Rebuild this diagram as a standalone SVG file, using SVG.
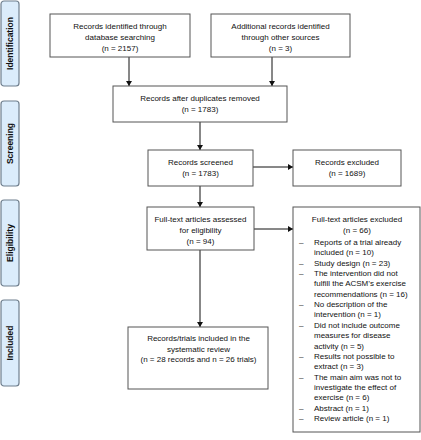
<svg xmlns="http://www.w3.org/2000/svg" width="421" height="440" viewBox="0 0 421 440">
<style>
.box{fill:#ffffff;stroke:#555555;stroke-width:1}
.side{fill:#dbecfb;stroke:#6f7f8e;stroke-width:1.2}
.t{font-family:"Liberation Sans",Arial,sans-serif;font-size:8px;fill:#111111}
.c{text-anchor:middle}
.s{font-family:"Liberation Sans",Arial,sans-serif;font-size:8.5px;font-weight:bold;fill:#111;text-anchor:middle}
.ln{stroke:#111;stroke-width:1;fill:none;marker-end:url(#ah)}
</style>
<defs>
<marker id="ah" markerUnits="userSpaceOnUse" markerWidth="6" markerHeight="6" refX="5" refY="3" orient="auto">
<path d="M0,0 L5,3 L0,6 z" fill="#111"/>
</marker>
</defs>
<rect width="421" height="440" fill="#ffffff"/>
<g id="side-identification"><rect class="side" x="1" y="1" width="18" height="85" rx="3"/><text class="s" transform="translate(13,43.5) rotate(-90)">Identification</text></g>
<g id="side-screening"><rect class="side" x="1" y="101" width="18" height="85" rx="3"/><text class="s" transform="translate(13,143.5) rotate(-90)">Screening</text></g>
<g id="side-eligibility"><rect class="side" x="1" y="200" width="18" height="86" rx="3"/><text class="s" transform="translate(13,243) rotate(-90)">Eligibility</text></g>
<g id="side-included"><rect class="side" x="1" y="300" width="18" height="86" rx="3"/><text class="s" transform="translate(13,343) rotate(-90)">Included</text></g>

<g id="connectors">
<line class="ln" x1="129" y1="57" x2="129" y2="86"/>
<line class="ln" x1="272" y1="57" x2="272" y2="86"/>
<line class="ln" x1="200" y1="122" x2="200" y2="150"/>
<line class="ln" x1="253" y1="167" x2="293" y2="167"/>
<line class="ln" x1="200" y1="186" x2="200" y2="207"/>
<line class="ln" x1="254" y1="229" x2="293" y2="229"/>
<line class="ln" x1="200" y1="250" x2="200" y2="327"/>
</g>

<g id="db-search"><rect class="box" x="50" y="14" width="140" height="43"/>
<text class="t c" x="120" y="29">Records identified through</text>
<text class="t c" x="120" y="40">database searching</text>
<text class="t c" x="120" y="51">(n = 2157)</text></g>

<g id="other-sources"><rect class="box" x="211" y="14" width="139" height="43"/>
<text class="t c" x="280.5" y="29">Additional records identified</text>
<text class="t c" x="280.5" y="40">through other sources</text>
<text class="t c" x="280.5" y="51">(n = 3)</text></g>

<g id="dup-removed"><rect class="box" x="113" y="86" width="174" height="36"/>
<text class="t c" x="200" y="101">Records after duplicates removed</text>
<text class="t c" x="200" y="111.5">(n = 1783)</text></g>

<g id="screened"><rect class="box" x="148" y="150" width="105" height="36"/>
<text class="t c" x="200.5" y="165">Records screened</text>
<text class="t c" x="200.5" y="176">(n = 1783)</text></g>

<g id="excluded"><rect class="box" x="293" y="150" width="108" height="36"/>
<text class="t c" x="347" y="165">Records excluded</text>
<text class="t c" x="347" y="176">(n = 1689)</text></g>

<g id="fulltext"><rect class="box" x="147" y="207" width="107" height="43"/>
<text class="t c" x="200.5" y="222">Full-text articles assessed</text>
<text class="t c" x="200.5" y="233">for eligibility</text>
<text class="t c" x="200.5" y="243.5">(n = 94)</text></g>

<g id="fulltext-excluded"><rect class="box" x="293" y="207" width="127" height="225"/>
<text class="t c" x="357" y="222">Full-text articles excluded</text>
<text class="t c" x="357" y="232.5">(n = 66)</text>
<g class="t">
<text x="299" y="245">–</text><text x="314" y="245">Reports of a trial already</text>
<text x="314" y="255.3">included (n = 10)</text>
<text x="299" y="265.7">–</text><text x="314" y="265.7">Study design (n = 23)</text>
<text x="299" y="276">–</text><text x="314" y="276">The intervention did not</text>
<text x="314" y="286.4">fulfill the ACSM’s exercise</text>
<text x="314" y="296.7">recommendations (n = 16)</text>
<text x="299" y="307.1">–</text><text x="314" y="307.1">No description of the</text>
<text x="314" y="317.4">intervention (n = 1)</text>
<text x="299" y="327.8">–</text><text x="314" y="327.8">Did not include outcome</text>
<text x="314" y="338.1">measures for disease</text>
<text x="314" y="348.5">activity (n = 5)</text>
<text x="299" y="358.8">–</text><text x="314" y="358.8">Results not possible to</text>
<text x="314" y="369.2">extract (n = 3)</text>
<text x="299" y="379.5">–</text><text x="314" y="379.5">The main aim was not to</text>
<text x="314" y="389.9">investigate the effect of</text>
<text x="314" y="400.2">exercise (n = 6)</text>
<text x="299" y="410.6">–</text><text x="314" y="410.6">Abstract (n = 1)</text>
<text x="299" y="421">–</text><text x="314" y="421">Review article  (n = 1)</text>
</g></g>

<g id="included"><rect class="box" x="128" y="327" width="140" height="62"/>
<text class="t c" x="198.5" y="341">Records/trials included in the</text>
<text class="t c" x="198.5" y="351.5">systematic review</text>
<text class="t c" x="198.5" y="362">(n = 28 records and n = 26 trials)</text></g>
</svg>
